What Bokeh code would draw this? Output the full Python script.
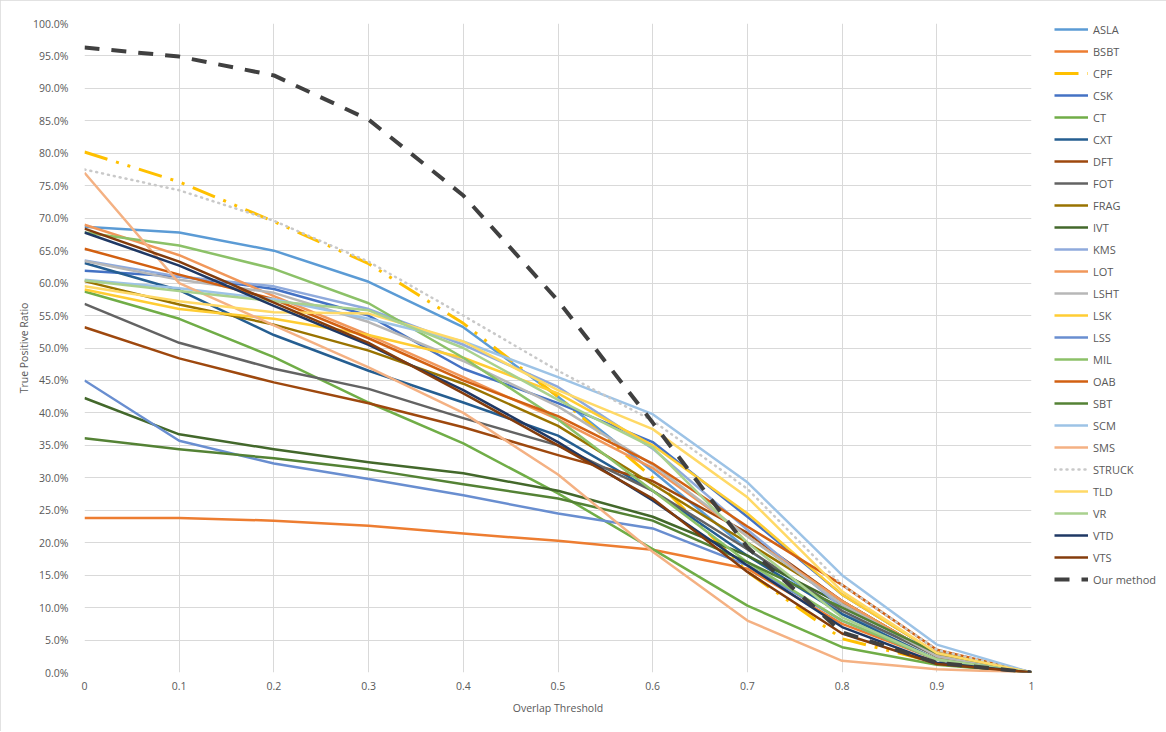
from bokeh.plotting import figure
from bokeh.models import Legend, LegendItem, FixedTicker, PrintfTickFormatter, CustomJSTickFormatter, Range1d
from bokeh.embed import file_html
from bokeh.resources import INLINE

thresholds = [0, 0.1, 0.2, 0.3, 0.4, 0.5, 0.6, 0.7, 0.8, 0.9, 1.0]

ASLA   = [68.7, 67.8, 65.0, 60.2, 53.2, 42.5, 31.0, 19.0, 9.0, 3.0, 0.0]
BSBT   = [23.8, 23.8, 23.4, 22.6, 21.4, 20.3, 18.9, 16.0, 7.5, 2.0, 0.0]
CPF    = [80.2, 75.6, 69.5, 63.0, 53.8, 42.5, 30.0, 15.5, 5.2, 1.5, 0.0]
CSK    = [61.9, 61.0, 59.1, 55.0, 46.8, 41.5, 35.5, 24.0, 12.0, 3.0, 0.0]
CT     = [58.7, 54.5, 48.6, 41.6, 35.3, 27.6, 19.0, 10.3, 3.9, 1.2, 0.0]
CXT    = [63.1, 58.9, 52.0, 46.5, 41.6, 36.5, 28.0, 18.0, 9.0, 2.0, 0.0]
DFT    = [53.2, 48.4, 44.7, 41.5, 37.8, 33.5, 29.5, 21.5, 11.0, 2.5, 0.0]
FOT    = [56.8, 50.8, 46.8, 43.7, 39.2, 35.0, 28.0, 19.0, 9.5, 2.5, 0.0]
FRAG   = [60.3, 56.7, 53.6, 49.6, 44.5, 38.0, 29.0, 20.0, 11.0, 2.5, 0.0]
IVT    = [42.3, 36.7, 34.4, 32.4, 30.7, 28.0, 24.0, 18.0, 10.5, 2.5, 0.0]
KMS    = [63.5, 61.0, 59.5, 56.0, 50.5, 44.0, 34.5, 22.0, 10.0, 3.0, 0.0]
LOT    = [69.0, 64.3, 58.0, 52.0, 45.5, 39.0, 31.5, 21.0, 11.0, 2.5, 0.0]
LSHT   = [63.4, 60.5, 58.5, 54.0, 48.0, 41.0, 32.0, 21.0, 10.5, 2.5, 0.0]
LSK    = [59.0, 56.0, 54.5, 52.0, 48.5, 43.0, 35.0, 24.5, 12.0, 3.0, 0.0]
LSS    = [45.0, 35.7, 32.2, 29.8, 27.3, 24.5, 22.2, 16.5, 8.0, 2.0, 0.0]
MIL    = [67.8, 65.8, 62.2, 56.9, 48.5, 39.0, 28.0, 17.0, 8.0, 2.0, 0.0]
OAB    = [65.3, 61.3, 57.5, 51.5, 45.0, 39.5, 32.2, 22.5, 13.5, 3.5, 0.0]
SBT    = [36.1, 34.4, 33.0, 31.3, 29.0, 26.8, 23.4, 17.0, 10.0, 3.0, 0.0]
SCM    = [60.5, 59.2, 57.5, 54.5, 51.0, 45.5, 39.8, 29.3, 15.0, 4.3, 0.0]
SMS    = [77.0, 60.0, 53.5, 47.0, 40.0, 30.5, 18.6, 8.0, 1.8, 0.5, 0.0]
STRUCK = [77.5, 74.3, 69.6, 63.3, 55.0, 46.5, 38.8, 28.3, 13.5, 3.5, 0.0]
TLD    = [59.5, 57.2, 55.5, 55.3, 51.0, 43.5, 37.5, 27.0, 12.5, 3.0, 0.0]
VR     = [60.4, 58.8, 57.2, 55.8, 50.0, 42.0, 34.7, 20.0, 8.5, 2.0, 0.0]
VTD    = [67.8, 62.7, 56.5, 50.5, 43.5, 35.5, 26.5, 16.5, 7.0, 1.5, 0.0]
VTS    = [68.4, 63.3, 57.0, 50.8, 43.0, 35.0, 26.8, 15.5, 6.0, 1.3, 0.0]
OURS   = [96.3, 94.9, 92.0, 85.2, 73.5, 57.3, 38.5, 19.3, 6.2, 1.5, 0.0]

names = ["ASLA", "BSBT", "CPF", "CSK", "CT", "CXT", "DFT", "FOT", "FRAG", "IVT",
         "KMS", "LOT", "LSHT", "LSK", "LSS", "MIL", "OAB", "SBT", "SCM", "SMS",
         "STRUCK", "TLD", "VR", "VTD", "VTS", "Our method"]
series = [ASLA, BSBT, CPF, CSK, CT, CXT, DFT, FOT, FRAG, IVT,
          KMS, LOT, LSHT, LSK, LSS, MIL, OAB, SBT, SCM, SMS,
          STRUCK, TLD, VR, VTD, VTS, OURS]
colors = ["#5B9BD5", "#ED7D31", "#FFC000", "#4472C4", "#70AD47", "#255E91", "#9E480E",
          "#636363", "#997300", "#43682B", "#8FAADC", "#F1975A", "#B7B7B7", "#FFCD33",
          "#698ED0", "#8CC168", "#D26012", "#548235", "#9DC3E6", "#F4B183", "#C9C9C9",
          "#FFD966", "#A9D18E", "#1F3864", "#843C0C", "#404040"]

FONT = "Open Sans"
TXT = "#595959"
GRID = "#D9D9D9"

p = figure(output_backend="svg", toolbar_location=None,
           x_range=Range1d(0, 1), y_range=Range1d(0, 100),
           min_border_left=84, min_border_right=135, min_border_top=23, min_border_bottom=59)
p.frame_width = 947
p.frame_height = 649
p.outline_line_color = None
p.styles = {"outline": "1px solid #D9D9D9", "outline-offset": "-1px"}

items = []
for name, vals, col in zip(names, series, colors):
    kw = dict(line_color=col, line_width=2.5, line_join="round")
    if name == "CPF":
        kw.update(line_width=3, line_dash="24 9 3 9 3 9")
    elif name == "STRUCK":
        kw.update(line_width=2.5, line_dash="1 5", line_cap="round")
    elif name == "Our method":
        kw.update(line_width=4, line_dash="15 12")
    r = p.line(thresholds, vals, **kw)
    items.append(LegendItem(label=name, renderers=[r]))

p.xaxis.ticker = FixedTicker(ticks=thresholds)
p.xaxis.formatter = CustomJSTickFormatter(code="return (Math.round(tick*10)/10).toString();")
p.yaxis.ticker = FixedTicker(ticks=list(range(0, 101, 5)))
p.yaxis.formatter = PrintfTickFormatter(format="%.1f%%")

for ax in (p.xaxis[0], p.yaxis[0]):
    ax.axis_line_color = None
    ax.major_tick_line_color = None
    ax.minor_tick_line_color = None
    ax.major_label_text_font = FONT
    ax.major_label_text_font_size = "10.5px"
    ax.major_label_text_color = TXT
    ax.axis_label_text_font = FONT
    ax.axis_label_text_font_size = "10.5px"
    ax.axis_label_text_color = TXT
    ax.axis_label_text_font_style = "normal"

p.xaxis.axis_label = "Overlap Threshold"
p.yaxis.axis_label = "True Positive Ratio"
p.xaxis.major_label_standoff = 3
p.xaxis.axis_label_standoff = 8
p.yaxis.major_label_standoff = 10
p.yaxis.axis_label_standoff = -1

p.xgrid.grid_line_color = GRID
p.ygrid.grid_line_color = GRID

legend = Legend(items=items, location=(23, 83), orientation="vertical",
                label_text_font=FONT, label_text_font_size="11px", label_text_color=TXT,
                glyph_width=34, glyph_height=20, label_height=20, spacing=2,
                label_standoff=5, padding=0, margin=0,
                border_line_color=None, background_fill_alpha=0)
p.add_layout(legend, "right")

open("out.html", "w").write(file_html(p, INLINE))
